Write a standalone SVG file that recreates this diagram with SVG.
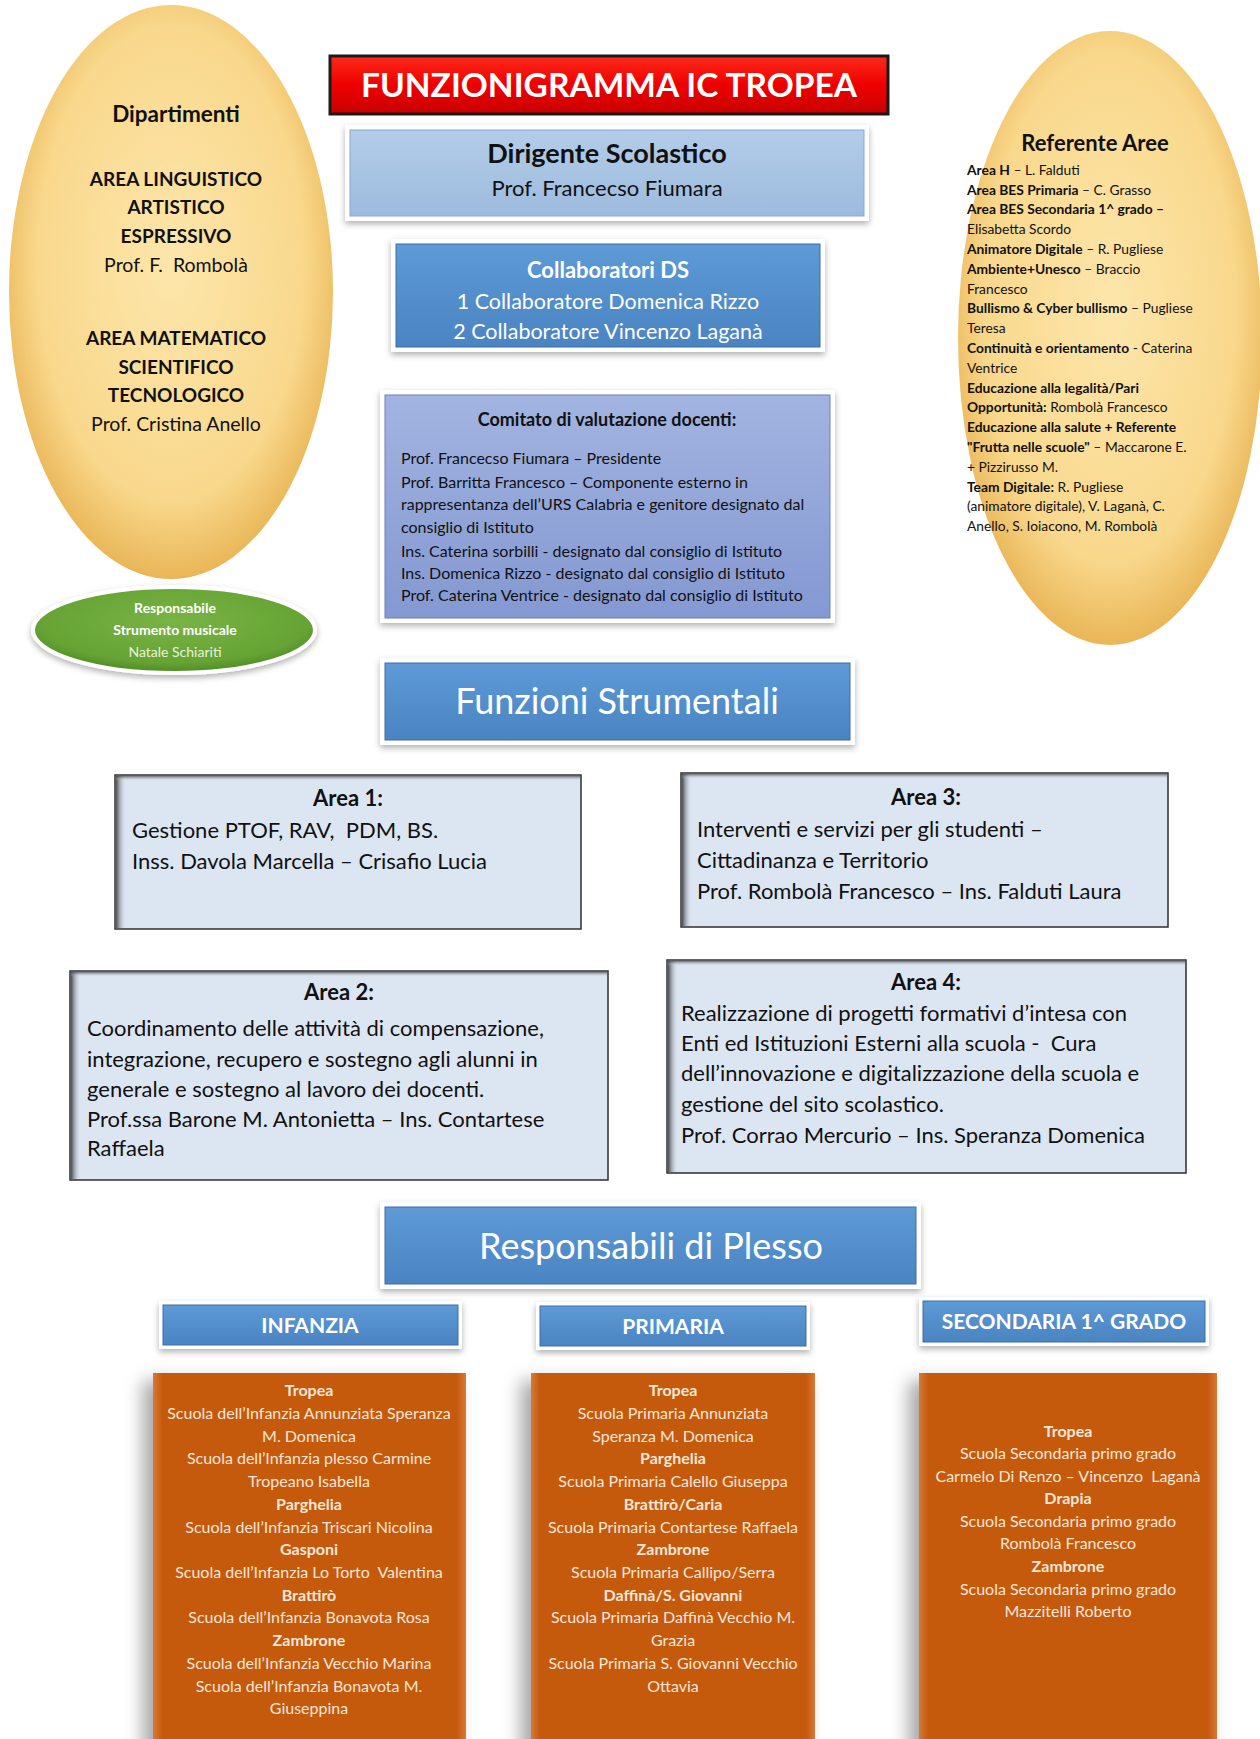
<svg xmlns="http://www.w3.org/2000/svg" width="1260" height="1739" viewBox="0 0 1260 1739">
<defs>
  <radialGradient id="gYellow" cx="50%" cy="45%" r="55%">
    <stop offset="0" stop-color="#fde6ab"/>
    <stop offset="0.75" stop-color="#f9d88c"/>
    <stop offset="1" stop-color="#e9b657"/>
  </radialGradient>
  <radialGradient id="gGreen" cx="50%" cy="40%" r="60%">
    <stop offset="0" stop-color="#78b445"/>
    <stop offset="0.8" stop-color="#66a334"/>
    <stop offset="1" stop-color="#4e8a24"/>
  </radialGradient>
  <linearGradient id="gRed" x1="0" y1="0" x2="0" y2="1">
    <stop offset="0" stop-color="#ff2a1a"/>
    <stop offset="0.5" stop-color="#ee0000"/>
    <stop offset="1" stop-color="#c80000"/>
  </linearGradient>
  <linearGradient id="gBlue" x1="0" y1="0" x2="0" y2="1">
    <stop offset="0" stop-color="#5d9ad6"/>
    <stop offset="1" stop-color="#4a84c2"/>
  </linearGradient>
  <linearGradient id="gLight" x1="0" y1="0" x2="0" y2="1">
    <stop offset="0" stop-color="#b3cde8"/>
    <stop offset="1" stop-color="#9dbbde"/>
  </linearGradient>
  <linearGradient id="gLav" x1="0" y1="0" x2="0" y2="1">
    <stop offset="0" stop-color="#a2b4e0"/>
    <stop offset="1" stop-color="#8498d2"/>
  </linearGradient>
  <linearGradient id="gOrange" x1="0" y1="0" x2="1" y2="0">
    <stop offset="0" stop-color="#d87a35"/>
    <stop offset="0.03" stop-color="#c55a11"/>
    <stop offset="0.97" stop-color="#c55a11"/>
    <stop offset="1" stop-color="#d87a35"/>
  </linearGradient>
  <linearGradient id="gLshade" x1="0" y1="0" x2="1" y2="0">
    <stop offset="0" stop-color="#3a3a3a" stop-opacity="0.9"/>
    <stop offset="1" stop-color="#dce6f2" stop-opacity="0"/>
  </linearGradient>
  <linearGradient id="gTshade" x1="0" y1="0" x2="0" y2="1">
    <stop offset="0" stop-color="#3a3a3a" stop-opacity="0.7"/>
    <stop offset="1" stop-color="#dce6f2" stop-opacity="0"/>
  </linearGradient>
  <filter id="sh" x="-20%" y="-20%" width="140%" height="140%">
    <feDropShadow dx="0" dy="3" stdDeviation="3" flood-color="#000" flood-opacity="0.3"/>
  </filter>
  <filter id="shBig" x="-20%" y="-20%" width="140%" height="140%">
    <feDropShadow dx="-10" dy="8" stdDeviation="9" flood-color="#000" flood-opacity="0.35"/>
  </filter>
</defs>
<style>
  text { font-family: Lato, "Liberation Sans", sans-serif; }
  .b { font-weight: 700; }
  .c { text-anchor: middle; }
  .w { fill: #ffffff; }
  .k { fill: #111111; }
  .frame { fill: #ffffff; filter: url(#sh); }
  .blue { fill: url(#gBlue); stroke: #3b6fa6; stroke-width: 1; }
  .area { fill: #dce6f2; stroke: #2e2e2e; stroke-width: 1.5; }
  .orange { fill: url(#gOrange); filter: url(#shBig); }
  .at { font-size: 22px; fill: #111; }
  .ref { font-size: 13.8px; fill: #111; }
  .com { font-size: 16px; fill: #111; }
  .orl { font-size: 16px; fill: #f7e6d8; text-anchor: middle; }
  .hd { font-size: 21px; font-weight: 700; fill: #ffffff; text-anchor: middle; }
</style>
<rect width="1260" height="1739" fill="#ffffff"/>

<g id="connectors"/>

<g id="dipartimenti">
  <ellipse cx="171" cy="292" rx="162" ry="287" fill="url(#gYellow)"/>
  <text class="k b c" x="176" y="122" font-size="22.5">Dipartimenti</text>
  <text class="k b c" x="176" y="186" font-size="19">AREA LINGUISTICO</text>
  <text class="k b c" x="176" y="214" font-size="19">ARTISTICO</text>
  <text class="k b c" x="176" y="243" font-size="19">ESPRESSIVO</text>
  <text class="k c" x="176" y="272" font-size="19.5" xml:space="preserve">Prof. F.  Rombolà</text>
  <text class="k b c" x="176" y="345" font-size="19">AREA MATEMATICO</text>
  <text class="k b c" x="176" y="374" font-size="19">SCIENTIFICO</text>
  <text class="k b c" x="176" y="402" font-size="19">TECNOLOGICO</text>
  <text class="k c" x="176" y="431" font-size="19.5">Prof. Cristina Anello</text>
</g>

<g id="strumento-musicale">
  <ellipse cx="174" cy="630" rx="141" ry="43" fill="url(#gGreen)" stroke="#ffffff" stroke-width="4" filter="url(#sh)"/>
  <text class="w b c" x="175" y="613" font-size="14">Responsabile</text>
  <text class="w b c" x="175" y="635" font-size="14">Strumento musicale</text>
  <text class="c" x="175" y="657" font-size="14" fill="#e8f2dc">Natale Schiariti</text>
</g>

<g id="referente-aree">
  <ellipse cx="1110" cy="338" rx="152" ry="307" fill="url(#gYellow)"/>
  <text class="k b c" x="1095" y="151" font-size="22">Referente Aree</text>
  <text class="ref" x="967" y="175"><tspan class="b">Area H</tspan> – L. Falduti</text>
  <text class="ref" x="967" y="195"><tspan class="b">Area BES Primaria</tspan> – C. Grasso</text>
  <text class="ref b" x="967" y="214">Area BES Secondaria 1^ grado –</text>
  <text class="ref" x="967" y="234">Elisabetta Scordo</text>
  <text class="ref" x="967" y="254"><tspan class="b">Animatore Digitale</tspan> – R. Pugliese</text>
  <text class="ref" x="967" y="274"><tspan class="b">Ambiente+Unesco</tspan> – Braccio</text>
  <text class="ref" x="967" y="294">Francesco</text>
  <text class="ref" x="967" y="313"><tspan class="b">Bullismo &amp; Cyber bullismo</tspan> – Pugliese</text>
  <text class="ref" x="967" y="333">Teresa</text>
  <text class="ref" x="967" y="353"><tspan class="b">Continuità e orientamento</tspan> - Caterina</text>
  <text class="ref" x="967" y="373">Ventrice</text>
  <text class="ref b" x="967" y="393">Educazione alla legalità/Pari</text>
  <text class="ref" x="967" y="412"><tspan class="b">Opportunità:</tspan> Rombolà Francesco</text>
  <text class="ref b" x="967" y="432">Educazione alla salute + Referente</text>
  <text class="ref" x="967" y="452"><tspan class="b">"Frutta nelle scuole"</tspan> – Maccarone E.</text>
  <text class="ref" x="967" y="472">+ Pizzirusso M.</text>
  <text class="ref" x="967" y="492"><tspan class="b">Team Digitale:</tspan> R. Pugliese</text>
  <text class="ref" x="967" y="511">(animatore digitale), V. Laganà, C.</text>
  <text class="ref" x="967" y="531">Anello, S. Ioiacono, M. Rombolà</text>
</g>

<g id="titolo">
  <rect x="330" y="56" width="558" height="58" fill="url(#gRed)" stroke="#1a1a1a" stroke-width="3"/>
  <text class="w b c" x="609" y="97" font-size="32" textLength="496" lengthAdjust="spacingAndGlyphs">FUNZIONIGRAMMA IC TROPEA</text>
</g>

<g id="dirigente">
  <rect class="frame" x="345" y="125" width="524" height="96"/>
  <rect x="350" y="130" width="514" height="86" fill="url(#gLight)" stroke="#8aa8cc" stroke-width="1"/>
  <text class="k b c" x="607" y="163" font-size="27">Dirigente Scolastico</text>
  <text class="k c" x="607" y="196" font-size="22">Prof. Francecso Fiumara</text>
</g>

<g id="collaboratori">
  <rect class="frame" x="391" y="239" width="434" height="113"/>
  <rect class="blue" x="396" y="244" width="424" height="103"/>
  <text class="w b c" x="608" y="278" font-size="22">Collaboratori DS</text>
  <text class="w c" x="608" y="309" font-size="21.5">1 Collaboratore Domenica Rizzo</text>
  <text class="w c" x="608" y="339" font-size="21.5">2 Collaboratore Vincenzo Laganà</text>
</g>

<g id="comitato">
  <rect class="frame" x="380" y="390" width="455" height="233"/>
  <rect x="385" y="395" width="445" height="223" fill="url(#gLav)" stroke="#6c80b8" stroke-width="1"/>
  <text class="k b c" x="607" y="426" font-size="18">Comitato di valutazione docenti:</text>
  <text class="com" x="401" y="464">Prof. Francecso Fiumara – Presidente</text>
  <text class="com" x="401" y="488">Prof. Barritta Francesco – Componente esterno in</text>
  <text class="com" x="401" y="510">rappresentanza dell’URS Calabria e genitore designato dal</text>
  <text class="com" x="401" y="533">consiglio di Istituto</text>
  <text class="com" x="401" y="557">Ins. Caterina sorbilli - designato dal consiglio di Istituto</text>
  <text class="com" x="401" y="579">Ins. Domenica Rizzo - designato dal consiglio di Istituto</text>
  <text class="com" x="401" y="601">Prof. Caterina Ventrice - designato dal consiglio di Istituto</text>
</g>

<g id="funzioni-strumentali">
  <rect class="frame" x="380" y="658" width="475" height="87"/>
  <rect class="blue" x="385" y="663" width="465" height="77"/>
  <text class="w c" x="617" y="714" font-size="36">Funzioni Strumentali</text>
</g>

<g id="area1">
  <rect class="area" x="115" y="775" width="466" height="154"/>
  <rect x="116" y="776" width="10" height="152" fill="url(#gLshade)"/>
  <rect x="116" y="776" width="464" height="5" fill="url(#gTshade)"/>
  <text class="at b c" x="348" y="806">Area 1:</text>
  <text class="at" x="132" y="838" xml:space="preserve">Gestione PTOF, RAV,  PDM, BS.</text>
  <text class="at" x="132" y="869">Inss. Davola Marcella – Crisafio Lucia</text>
</g>

<g id="area3">
  <rect class="area" x="681" y="773" width="487" height="154"/>
  <rect x="682" y="774" width="10" height="152" fill="url(#gLshade)"/>
  <rect x="682" y="774" width="485" height="5" fill="url(#gTshade)"/>
  <text class="at b c" x="926" y="805">Area 3:</text>
  <text class="at" x="697" y="837">Interventi e servizi per gli studenti –</text>
  <text class="at" x="697" y="868">Cittadinanza e Territorio</text>
  <text class="at" x="697" y="899">Prof. Rombolà Francesco – Ins. Falduti Laura</text>
</g>

<g id="area2">
  <rect class="area" x="70" y="971" width="538" height="209"/>
  <rect x="71" y="972" width="10" height="207" fill="url(#gLshade)"/>
  <rect x="71" y="972" width="536" height="5" fill="url(#gTshade)"/>
  <text class="at b c" x="339" y="1000">Area 2:</text>
  <text class="at" x="87" y="1036">Coordinamento delle attività di compensazione,</text>
  <text class="at" x="87" y="1067">integrazione, recupero e sostegno agli alunni in</text>
  <text class="at" x="87" y="1097">generale e sostegno al lavoro dei docenti.</text>
  <text class="at" x="87" y="1127">Prof.ssa Barone M. Antonietta – Ins. Contartese</text>
  <text class="at" x="87" y="1156">Raffaela</text>
</g>

<g id="area4">
  <rect class="area" x="667" y="960" width="519" height="213"/>
  <rect x="668" y="961" width="10" height="211" fill="url(#gLshade)"/>
  <rect x="668" y="961" width="517" height="5" fill="url(#gTshade)"/>
  <text class="at b c" x="926" y="990">Area 4:</text>
  <text class="at" x="681" y="1021">Realizzazione di progetti formativi d’intesa con</text>
  <text class="at" x="681" y="1051" xml:space="preserve">Enti ed Istituzioni Esterni alla scuola -  Cura</text>
  <text class="at" x="681" y="1081">dell’innovazione e digitalizzazione della scuola e</text>
  <text class="at" x="681" y="1112">gestione del sito scolastico.</text>
  <text class="at" x="681" y="1143">Prof. Corrao Mercurio – Ins. Speranza Domenica</text>
</g>

<g id="responsabili-plesso">
  <rect class="frame" x="380" y="1202" width="541" height="87"/>
  <rect class="blue" x="385" y="1207" width="531" height="77"/>
  <text class="w c" x="651" y="1259" font-size="36">Responsabili di Plesso</text>
</g>

<g id="infanzia-header">
  <rect class="frame" x="159" y="1301" width="303" height="48"/>
  <rect class="blue" x="163" y="1305" width="295" height="40"/>
  <text class="hd" x="310" y="1333">INFANZIA</text>
</g>
<g id="primaria-header">
  <rect class="frame" x="536" y="1302" width="274" height="48"/>
  <rect class="blue" x="540" y="1306" width="266" height="40"/>
  <text class="hd" x="673" y="1334">PRIMARIA</text>
</g>
<g id="secondaria-header">
  <rect class="frame" x="919" y="1297" width="290" height="49"/>
  <rect class="blue" x="923" y="1301" width="282" height="41"/>
  <text class="hd" x="1064" y="1329">SECONDARIA 1^ GRADO</text>
</g>

<g id="infanzia">
  <rect class="orange" x="153" y="1373" width="313" height="380"/>
  <text class="orl b" x="309" y="1396">Tropea</text>
  <text class="orl" x="309" y="1419">Scuola dell’Infanzia Annunziata Speranza</text>
  <text class="orl" x="309" y="1442">M. Domenica</text>
  <text class="orl" x="309" y="1464">Scuola dell’Infanzia plesso Carmine</text>
  <text class="orl" x="309" y="1487">Tropeano Isabella</text>
  <text class="orl b" x="309" y="1510">Parghelia</text>
  <text class="orl" x="309" y="1533">Scuola dell’Infanzia Triscari Nicolina</text>
  <text class="orl b" x="309" y="1555">Gasponi</text>
  <text class="orl" x="309" y="1578" xml:space="preserve">Scuola dell’Infanzia Lo Torto  Valentina</text>
  <text class="orl b" x="309" y="1601">Brattirò</text>
  <text class="orl" x="309" y="1623">Scuola dell’Infanzia Bonavota Rosa</text>
  <text class="orl b" x="309" y="1646">Zambrone</text>
  <text class="orl" x="309" y="1669">Scuola dell’Infanzia Vecchio Marina</text>
  <text class="orl" x="309" y="1692">Scuola dell’Infanzia Bonavota M.</text>
  <text class="orl" x="309" y="1714">Giuseppina</text>
</g>

<g id="primaria">
  <rect class="orange" x="531" y="1373" width="284" height="380"/>
  <text class="orl b" x="673" y="1396">Tropea</text>
  <text class="orl" x="673" y="1419">Scuola Primaria Annunziata</text>
  <text class="orl" x="673" y="1442">Speranza M. Domenica</text>
  <text class="orl b" x="673" y="1464">Parghelia</text>
  <text class="orl" x="673" y="1487">Scuola Primaria Calello Giuseppa</text>
  <text class="orl b" x="673" y="1510">Brattirò/Caria</text>
  <text class="orl" x="673" y="1533">Scuola Primaria Contartese Raffaela</text>
  <text class="orl b" x="673" y="1555">Zambrone</text>
  <text class="orl" x="673" y="1578">Scuola Primaria Callipo/Serra</text>
  <text class="orl b" x="673" y="1601">Daffinà/S. Giovanni</text>
  <text class="orl" x="673" y="1623">Scuola Primaria Daffinà Vecchio M.</text>
  <text class="orl" x="673" y="1646">Grazia</text>
  <text class="orl" x="673" y="1669">Scuola Primaria S. Giovanni Vecchio</text>
  <text class="orl" x="673" y="1692">Ottavia</text>
</g>

<g id="secondaria">
  <rect class="orange" x="919" y="1373" width="298" height="380"/>
  <text class="orl b" x="1068" y="1437">Tropea</text>
  <text class="orl" x="1068" y="1459">Scuola Secondaria primo grado</text>
  <text class="orl" x="1068" y="1482" xml:space="preserve">Carmelo Di Renzo – Vincenzo  Laganà</text>
  <text class="orl b" x="1068" y="1504">Drapia</text>
  <text class="orl" x="1068" y="1527">Scuola Secondaria primo grado</text>
  <text class="orl" x="1068" y="1549">Rombolà Francesco</text>
  <text class="orl b" x="1068" y="1572">Zambrone</text>
  <text class="orl" x="1068" y="1595">Scuola Secondaria primo grado</text>
  <text class="orl" x="1068" y="1617">Mazzitelli Roberto</text>
</g>
</svg>
